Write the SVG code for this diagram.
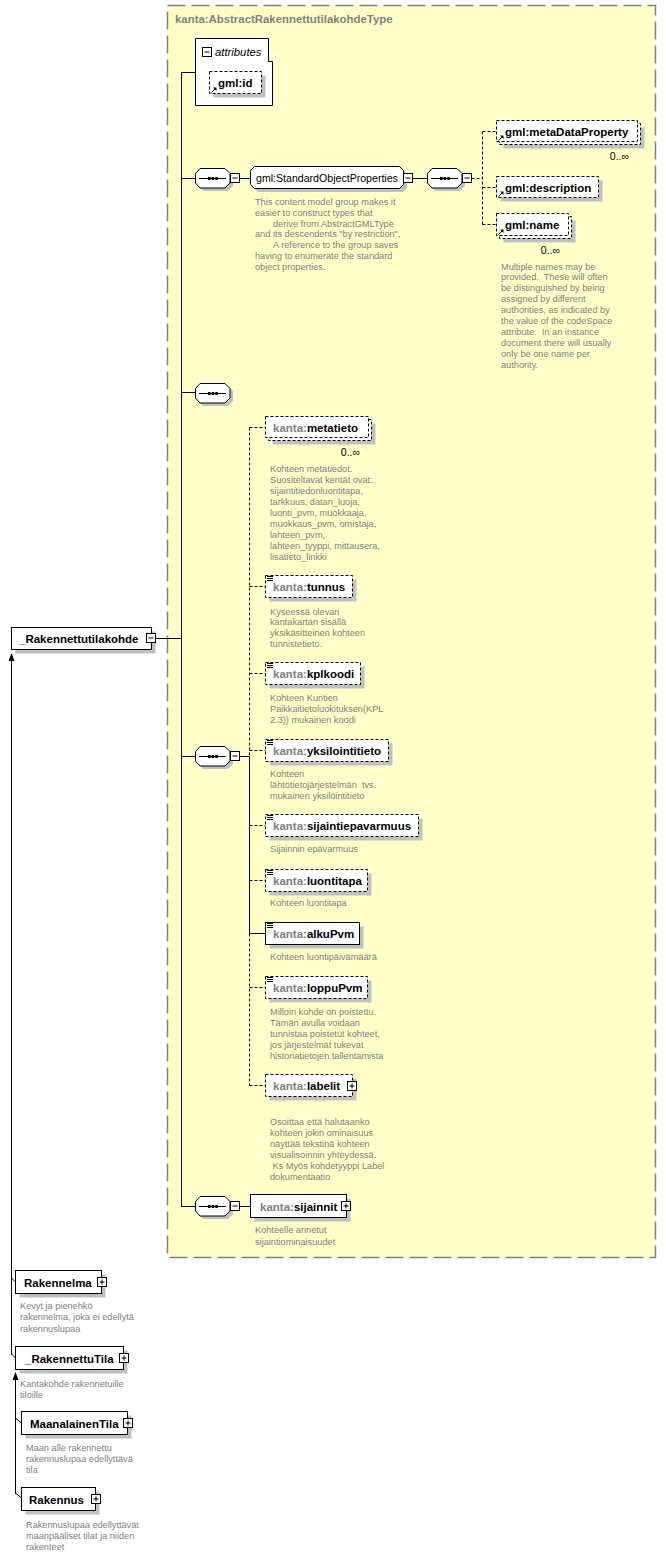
<svg xmlns="http://www.w3.org/2000/svg" xmlns:xlink="http://www.w3.org/1999/xlink" width="666" height="1556" viewBox="0 0 666 1556">
<style>
.nm{font-family:"Liberation Sans",Arial,sans-serif;font-size:11.5px;font-weight:bold;fill:#000}
.px{fill:#808080}
.ds{font-family:"Liberation Sans",Arial,sans-serif;font-size:9.2px;fill:#808080}
.oc{font-family:"Liberation Sans",Arial,sans-serif;font-size:10.5px;fill:#000}
.bx{fill:#fff;stroke:#000;stroke-width:1}
.dbx{fill:#fff;stroke:#000;stroke-width:1;stroke-dasharray:3,2}
.sh{fill:#c0c0c0}
.ln{stroke:#000;stroke-width:1;fill:none}
.dl{stroke:#000;stroke-width:1;fill:none;stroke-dasharray:3,2}
</style>
<defs>
<g id="minus"><rect x="0" y="0" width="9" height="9" class="bx"/><path d="M2,4.5H7" class="ln"/></g>
<g id="plus"><rect x="0" y="0" width="9" height="9" class="bx"/><path d="M2,4.5H7M4.5,2V7" class="ln"/></g>
<g id="seq"><polygon points="8,3 33,3 38,8 38,18 33,23 8,23 3,18 3,8" class="sh"/><polygon points="5,0.5 30,0.5 35,5.5 35,15 30,20 5,20 0.5,15 0.5,5.5" class="bx"/><path d="M4,10.5H31" class="ln"/><rect x="13" y="9" width="2.6" height="3" fill="#000"/><rect x="16.6" y="9" width="2.6" height="3" fill="#000"/><rect x="20.2" y="9" width="2.6" height="3" fill="#000"/></g>
<g id="eq"><path d="M0,0.5H6M0,2.5H6M0,4.5H6" class="ln"/></g>
<g id="ar"><path d="M0.5,5.5L4,2" class="ln"/><path d="M2,0.5H5.5V4Z" fill="#000"/></g>
</defs>

<rect x="167.5" y="5.5" width="488" height="1252" fill="#FFFFC8" stroke="#808080" stroke-width="1.5" stroke-dasharray="18,6"/>
<text x="175" y="23" font-family="Liberation Sans,Arial,sans-serif" font-size="11.4" font-weight="bold" fill="#808080">kanta:AbstractRakennettutilakohdeType</text>

<g id="connectors">
<path d="M181.5,72V1206.5" class="ln"/>
<path d="M181.5,72.5H196M181.5,178.5H196M181.5,392.5H196M181.5,756.5H196M181.5,1206.5H196M156,638.5H181.5" class="ln"/>
<path d="M239.5,178.5H250M412.5,178.5H427M239.5,756.5H249.5M239.5,1206.5H250.5" class="ln"/>
<path d="M471.5,178.5H482.5M482.5,131.5V224.5M482.5,131.5H496.5M482.5,187.5H496.5M482.5,224.5H496.5" class="dl"/>
<path d="M249.5,427.5V756.5M249.5,933.5V1085.5" class="dl"/>
<path d="M249.5,756.5V933.5M249.5,933.5H265.5" class="ln"/>
<path d="M249.5,427.5H265.5M249.5,586.5H265.5M249.5,673.5H265.5M249.5,750.5H265.5M249.5,825.5H265.5M249.5,880.5H265.5M249.5,987.5H265.5M249.5,1085.5H265.5" class="dl"/>
<path d="M11.5,660V1355M11.5,1278L15.5,1282M11.5,1354L15.5,1358" class="ln"/>
<polygon points="11.5,653 8.5,661 14.5,661" fill="#000"/>
<path d="M15.5,1379V1494M15.5,1418L21.5,1423M15.5,1493L21.5,1498" class="ln"/>
<polygon points="15.5,1372 12.5,1380 18.5,1380" fill="#000"/>
</g>

<g id="attributes">
<polygon points="195.5,38.5 268.5,38.5 268.5,61.5 272.5,61.5 272.5,105.5 195.5,105.5" class="bx"/>
<use xlink:href="#minus" x="202.5" y="47.5"/>
<text x="215" y="56" font-family="Liberation Sans,Arial,sans-serif" font-size="11.3" font-style="italic" fill="#000">attributes</text>
</g>
<g id="gml-id">
<rect x="213.5" y="75.5" width="52" height="22" class="sh"/>
<rect x="209.5" y="71.5" width="52" height="22" class="dbx"/>
<use xlink:href="#ar" x="211" y="87"/>
<text x="218" y="87" class="nm">gml:id</text>
</g>

<g id="seq1"><use xlink:href="#seq" x="195" y="168"/><use xlink:href="#minus" x="230.5" y="173.5"/></g>

<g id="StandardObjectProperties">
<polygon points="258,170 403,170 407,174 407,188 403,192 258,192 254,188 254,174" class="sh"/>
<polygon points="254.5,166.5 399.5,166.5 403.5,170.5 403.5,184.5 399.5,188.5 254.5,188.5 250.5,184.5 250.5,170.5" class="bx"/>
<text x="256" y="182" font-family="Liberation Sans,Arial,sans-serif" font-size="10.6" fill="#000">gml:StandardObjectProperties</text>
<use xlink:href="#minus" x="403.5" y="173.5"/>
<text class="ds"><tspan x="255" y="205">This content model group makes it</tspan><tspan x="255" y="215.8">easier to construct types that</tspan><tspan x="273" y="226.6">derive from AbstractGMLType</tspan><tspan x="255" y="237.4">and its descendents "by restriction".</tspan><tspan x="273" y="248.2">A reference to the group saves</tspan><tspan x="255" y="259">having to enumerate the standard</tspan><tspan x="255" y="269.8">object properties.</tspan></text>
</g>

<g id="seq2"><use xlink:href="#seq" x="427" y="168"/><use xlink:href="#minus" x="462.5" y="173.5"/></g>

<g id="gml-metaDataProperty">
<rect x="503.5" y="127.5" width="141" height="21" class="sh"/>
<rect x="499.5" y="123.5" width="141" height="21" class="dbx"/>
<rect x="496.5" y="120.5" width="141" height="21" class="dbx"/>
<use xlink:href="#ar" x="498" y="135"/>
<text x="505" y="135.5" class="nm">gml:metaDataProperty</text>
<text x="629" y="160" class="oc" text-anchor="end">0..∞</text>
</g>
<g id="gml-description">
<rect x="500.5" y="180.5" width="102" height="21" class="sh"/>
<rect x="496.5" y="176.5" width="102" height="21" class="dbx"/>
<use xlink:href="#ar" x="498" y="191"/>
<text x="505" y="191.5" class="nm">gml:description</text>
</g>
<g id="gml-name">
<rect x="503.5" y="220.5" width="72" height="22" class="sh"/>
<rect x="499.5" y="216.5" width="72" height="22" class="dbx"/>
<rect x="496.5" y="213.5" width="72" height="22" class="dbx"/>
<use xlink:href="#ar" x="498" y="229"/>
<text x="505" y="229" class="nm">gml:name</text>
<text x="560" y="254" class="oc" text-anchor="end">0..∞</text>
<text class="ds" xml:space="preserve"><tspan x="501" y="269.5">Multiple names may be</tspan><tspan x="501" y="280.4">provided.  These will often</tspan><tspan x="501" y="291.3">be distinguished by being</tspan><tspan x="501" y="302.2">assigned by different</tspan><tspan x="501" y="313.1">authorities, as indicated by</tspan><tspan x="501" y="324">the value of the codeSpace</tspan><tspan x="501" y="334.9">attribute.  In an instance</tspan><tspan x="501" y="345.8">document there will usually</tspan><tspan x="501" y="356.7">only be one name per</tspan><tspan x="501" y="367.6">authority.</tspan></text>
</g>

<g id="seq3"><use xlink:href="#seq" x="195" y="383"/></g>

<g id="seq4"><use xlink:href="#seq" x="195" y="746"/><use xlink:href="#minus" x="230.5" y="751.5"/></g>

<g id="metatieto">
<rect x="272.5" y="423.5" width="103" height="21" class="sh"/>
<rect x="268.5" y="419.5" width="103" height="21" class="dbx"/>
<rect x="265.5" y="416.5" width="103" height="21" class="dbx"/>
<text x="273" y="431.5" class="nm"><tspan class="px">kanta:</tspan>metatieto</text>
<text x="360" y="456" class="oc" text-anchor="end">0..∞</text>
<text class="ds"><tspan x="270" y="472">Kohteen metatiedot.</tspan><tspan x="270" y="482.9">Suositeltavat kentät ovat:</tspan><tspan x="270" y="493.9">sijaintitiedonluontitapa,</tspan><tspan x="270" y="504.8">tarkkuus, datan_luoja,</tspan><tspan x="270" y="515.8">luonti_pvm, muokkaaja,</tspan><tspan x="270" y="526.7">muokkaus_pvm, omistaja,</tspan><tspan x="270" y="537.6">lahteen_pvm,</tspan><tspan x="270" y="548.6">lahteen_tyyppi, mittausera,</tspan><tspan x="270" y="559.5">lisatieto_linkki</tspan></text>
</g>
<g id="tunnus">
<rect x="269.5" y="579.5" width="87" height="22" class="sh"/>
<rect x="265.5" y="575.5" width="87" height="22" class="dbx"/>
<use xlink:href="#eq" x="267" y="576"/>
<text x="273" y="591" class="nm"><tspan class="px">kanta:</tspan>tunnus</text>
<text class="ds"><tspan x="270" y="614.5">Kyseessä olevan</tspan><tspan x="270" y="625.4">kantakartan sisällä</tspan><tspan x="270" y="636.3">yksikäsitteinen kohteen</tspan><tspan x="270" y="647.2">tunnistetieto.</tspan></text>
</g>
<g id="kplkoodi">
<rect x="269.5" y="666.5" width="95" height="22" class="sh"/>
<rect x="265.5" y="662.5" width="95" height="22" class="dbx"/>
<use xlink:href="#eq" x="267" y="663"/>
<text x="273" y="678" class="nm"><tspan class="px">kanta:</tspan>kplkoodi</text>
<text class="ds"><tspan x="270" y="701">Kohteen Kuntien</tspan><tspan x="270" y="711.9">Paikkaitietoluokituksen(KPL</tspan><tspan x="270" y="722.8">2.3)) mukainen koodi</tspan></text>
</g>
<g id="yksilointitieto">
<rect x="269.5" y="743.5" width="123" height="22" class="sh"/>
<rect x="265.5" y="739.5" width="123" height="22" class="dbx"/>
<use xlink:href="#eq" x="267" y="740"/>
<text x="273" y="755" class="nm"><tspan class="px">kanta:</tspan>yksilointitieto</text>
<text class="ds" xml:space="preserve"><tspan x="270" y="777">Kohteen</tspan><tspan x="270" y="787.9">lähtötietojärjestelmän  tvs.</tspan><tspan x="270" y="798.8">mukainen yksilöintitieto</tspan></text>
</g>
<g id="sijaintiepavarmuus">
<rect x="269.5" y="818.5" width="153" height="22" class="sh"/>
<rect x="265.5" y="814.5" width="153" height="22" class="dbx"/>
<use xlink:href="#eq" x="267" y="815"/>
<text x="273" y="830" class="nm"><tspan class="px">kanta:</tspan>sijaintiepavarmuus</text>
<text x="270" y="852" class="ds">Sijainnin epävarmuus</text>
</g>
<g id="luontitapa">
<rect x="269.5" y="873.5" width="102" height="22" class="sh"/>
<rect x="265.5" y="869.5" width="102" height="22" class="dbx"/>
<use xlink:href="#eq" x="267" y="870"/>
<text x="273" y="885" class="nm"><tspan class="px">kanta:</tspan>luontitapa</text>
<text x="270" y="906" class="ds">Kohteen luontitapa</text>
</g>
<g id="alkuPvm">
<rect x="269.5" y="926.5" width="94" height="22" class="sh"/>
<rect x="265.5" y="922.5" width="94" height="22" class="bx"/>
<use xlink:href="#eq" x="267" y="923"/>
<text x="273" y="938" class="nm"><tspan class="px">kanta:</tspan>alkuPvm</text>
<text x="270" y="960" class="ds">Kohteen luontipäivämäärä</text>
</g>
<g id="loppuPvm">
<rect x="269.5" y="980.5" width="102" height="22" class="sh"/>
<rect x="265.5" y="976.5" width="102" height="22" class="dbx"/>
<use xlink:href="#eq" x="267" y="977"/>
<text x="273" y="992" class="nm"><tspan class="px">kanta:</tspan>loppuPvm</text>
<text class="ds"><tspan x="270" y="1015">Milloin kohde on poistettu.</tspan><tspan x="270" y="1025.9">Tämän avulla voidaan</tspan><tspan x="270" y="1036.8">tunnistaa poistetut kohteet,</tspan><tspan x="270" y="1047.7">jos järjestelmät tukevat</tspan><tspan x="270" y="1058.6">historiatietojen tallentamista</tspan></text>
</g>
<g id="labelit">
<rect x="269.5" y="1078.5" width="87" height="22" class="sh"/>
<rect x="265.5" y="1074.5" width="87" height="22" class="dbx"/>
<text x="273" y="1090" class="nm"><tspan class="px">kanta:</tspan>labelit</text>
<use xlink:href="#plus" x="347.5" y="1081.5"/>
<text class="ds" xml:space="preserve"><tspan x="270" y="1125">Osoittaa että halutaanko</tspan><tspan x="270" y="1135.9">kohteen jokin ominaisuus</tspan><tspan x="270" y="1146.8">näyttää tekstinä kohteen</tspan><tspan x="270" y="1157.7">visualisoinnin yhteydessä.</tspan><tspan x="270" y="1168.6"> Ks Myös kohdetyyppi Label</tspan><tspan x="270" y="1179.5">dokumentaatio</tspan></text>
</g>

<g id="seq5"><use xlink:href="#seq" x="195" y="1196"/><use xlink:href="#minus" x="230.5" y="1201.5"/></g>

<g id="sijainnit">
<rect x="254.5" y="1198.5" width="96" height="23" class="sh"/>
<rect x="250.5" y="1194.5" width="96" height="23" class="bx"/>
<text x="260" y="1210.5" class="nm"><tspan class="px">kanta:</tspan>sijainnit</text>
<use xlink:href="#plus" x="341.5" y="1201.5"/>
<text class="ds"><tspan x="255" y="1233">Kohteelle annetut</tspan><tspan x="255" y="1244.5">sijaintiominaisuudet</tspan></text>
</g>

<g id="Rakennettutilakohde">
<rect x="15.5" y="631.5" width="140" height="22" class="sh"/>
<rect x="11.5" y="627.5" width="140" height="22" class="bx"/>
<text x="19" y="643" class="nm">_Rakennettutilakohde</text>
<use xlink:href="#minus" x="146.5" y="633.5"/>
</g>

<g id="Rakennelma">
<rect x="19.5" y="1274.5" width="86" height="23" class="sh"/>
<rect x="15.5" y="1270.5" width="86" height="23" class="bx"/>
<text x="24" y="1286.5" class="nm">Rakennelma</text>
<use xlink:href="#plus" x="97.5" y="1277.5"/>
<text class="ds"><tspan x="20" y="1309">Kevyt ja pienehkö</tspan><tspan x="20" y="1320.3">rakennelma, joka ei edellytä</tspan><tspan x="20" y="1331.6">rakennuslupaa</tspan></text>
</g>
<g id="RakennettuTila">
<rect x="19.5" y="1350.5" width="108" height="23" class="sh"/>
<rect x="15.5" y="1346.5" width="108" height="23" class="bx"/>
<text x="25" y="1362.5" class="nm">_RakennettuTila</text>
<use xlink:href="#plus" x="119.5" y="1353.5"/>
<text class="ds"><tspan x="20" y="1387">Kantakohde rakennetuille</tspan><tspan x="20" y="1397.8">tiloille</tspan></text>
</g>
<g id="MaanalainenTila">
<rect x="25.5" y="1415.5" width="106" height="23" class="sh"/>
<rect x="21.5" y="1411.5" width="106" height="23" class="bx"/>
<text x="30" y="1427.5" class="nm">MaanalainenTila</text>
<use xlink:href="#plus" x="123.5" y="1418.5"/>
<text class="ds"><tspan x="26" y="1451">Maan alle rakennettu</tspan><tspan x="26" y="1462">rakennuslupaa edellyttävä</tspan><tspan x="26" y="1473">tila</tspan></text>
</g>
<g id="Rakennus">
<rect x="25.5" y="1491.5" width="74" height="23" class="sh"/>
<rect x="21.5" y="1487.5" width="74" height="23" class="bx"/>
<text x="29" y="1503.5" class="nm">Rakennus</text>
<use xlink:href="#plus" x="91.5" y="1494.5"/>
<text class="ds"><tspan x="26" y="1528">Rakennuslupaa edellyttävät</tspan><tspan x="26" y="1539">maanpääliset tilat ja niiden</tspan><tspan x="26" y="1550">rakenteet</tspan></text>
</g>
</svg>
